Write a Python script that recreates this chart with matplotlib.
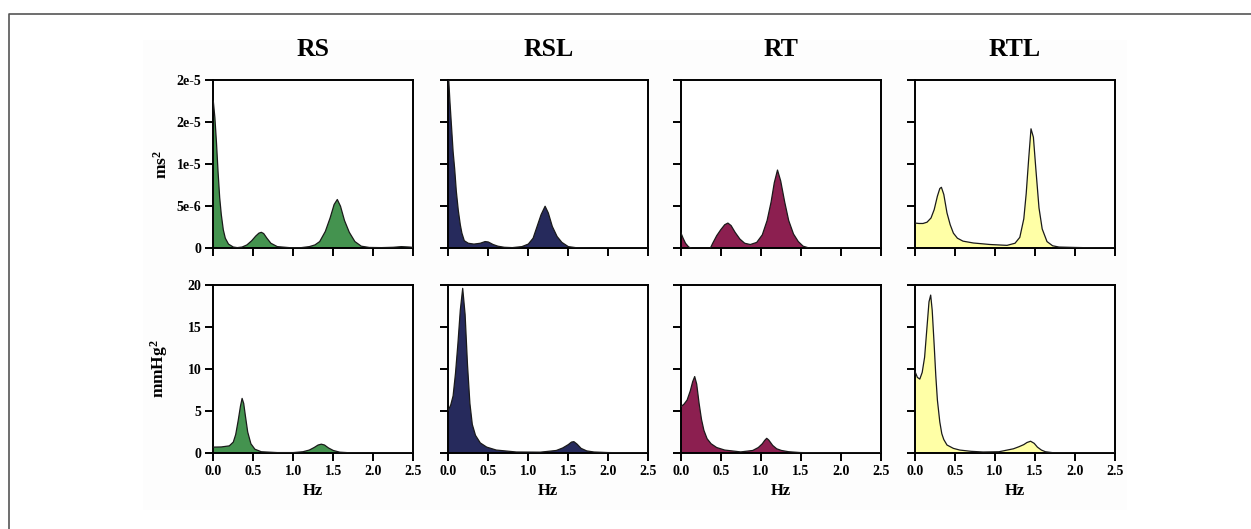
import matplotlib
matplotlib.use("Agg")
import matplotlib.pyplot as plt
from matplotlib.lines import Line2D
from matplotlib.patches import Rectangle

# ---------------- data ----------------
titles = ["RS", "RSL", "RT", "RTL"]
colors = ["#44934f", "#262a5c", "#8c1f50", "#ffffa6"]

x_ticks = [0.0, 0.5, 1.0, 1.5, 2.0, 2.5]
x_tick_labels = ["0.0", "0.5", "1.0", "1.5", "2.0", "2.5"]
top_ticks = [0, 5e-6, 1e-5, 1.5e-5, 2e-5]
top_tick_labels = ["0", "5e-6", "1e-5", "2e-5", "2e-5"]
bottom_ticks = [0, 5, 10, 15, 20]
bottom_tick_labels = ["0", "5", "10", "15", "20"]

# top row: RR-interval spectra, values in units of 1e-6 ms^2
rs_ms_hz = [0.00, 0.02, 0.04, 0.06, 0.08, 0.10, 0.125, 0.15, 0.19, 0.25, 0.30, 0.36,
            0.42, 0.48, 0.53, 0.57, 0.60, 0.63, 0.67, 0.72, 0.80, 0.95, 1.10, 1.20,
            1.27, 1.33, 1.40, 1.46, 1.51, 1.55, 1.59, 1.64, 1.70, 1.77, 1.85, 1.95,
            2.10, 2.25, 2.35, 2.45, 2.50]
rs_ms_pow = [17.5, 15.5, 12.5, 9.0, 6.0, 4.0, 2.2, 1.2, 0.5, 0.15, 0.08, 0.15,
             0.4, 0.9, 1.45, 1.8, 1.9, 1.75, 1.2, 0.6, 0.2, 0.08, 0.08, 0.2,
             0.4, 0.8, 2.0, 3.6, 5.2, 5.8, 5.0, 3.3, 1.9, 0.8, 0.25, 0.1,
             0.08, 0.12, 0.2, 0.15, 0.1]

rsl_ms_hz = [0.00, 0.02, 0.04, 0.06, 0.08, 0.10, 0.125, 0.15, 0.17, 0.20, 0.25, 0.32,
             0.40, 0.46, 0.50, 0.56, 0.62, 0.70, 0.80, 0.92, 1.00, 1.06, 1.11, 1.16,
             1.21, 1.25, 1.30, 1.36, 1.42, 1.50, 1.60, 1.80, 2.10, 2.50]
rsl_ms_pow = [21.0, 17.5, 14.5, 11.5, 9.4, 6.8, 4.5, 2.8, 1.8, 0.9, 0.6, 0.5,
              0.6, 0.8, 0.75, 0.45, 0.25, 0.12, 0.08, 0.2, 0.5, 1.2, 2.6, 4.0,
              5.0, 4.2, 2.6, 1.4, 0.7, 0.2, 0.07, 0.03, 0.02, 0.02]

rt_ms_hz = [0.00, 0.03, 0.06, 0.10, 0.14, 0.25, 0.37, 0.40, 0.45, 0.50, 0.55, 0.59,
            0.63, 0.68, 0.74, 0.80, 0.87, 0.95, 1.02, 1.08, 1.13, 1.17, 1.21, 1.25,
            1.30, 1.35, 1.41, 1.47, 1.53, 1.60, 2.00, 2.50]
rt_ms_pow = [1.9, 1.2, 0.6, 0.15, 0.0, 0.0, 0.0, 0.6, 1.5, 2.2, 2.8, 3.0,
             2.7, 1.9, 1.1, 0.6, 0.45, 0.7, 1.6, 3.3, 5.5, 7.8, 9.3, 8.0,
             5.5, 3.3, 1.7, 0.8, 0.25, 0.05, 0.0, 0.0]

rtl_ms_hz = [0.00, 0.05, 0.10, 0.15, 0.20, 0.24, 0.28, 0.31, 0.33, 0.36, 0.40, 0.44,
             0.48, 0.53, 0.60, 0.73, 0.94, 1.15, 1.25, 1.31, 1.36, 1.39, 1.42, 1.45,
             1.48, 1.51, 1.55, 1.59, 1.65, 1.72, 1.80, 2.00, 2.25, 2.50]
rtl_ms_pow = [3.0, 2.95, 2.95, 3.1, 3.6, 4.6, 6.2, 7.1, 7.25, 6.4, 4.2, 2.8,
              1.8, 1.2, 0.85, 0.63, 0.45, 0.35, 0.6, 1.3, 3.5, 6.5, 10.5, 14.2,
              13.2, 9.5, 4.8, 2.3, 0.8, 0.3, 0.15, 0.1, 0.05, 0.02]

# bottom row: blood-pressure spectra, values in mmHg^2
rs_bp_hz = [0.00, 0.10, 0.20, 0.25, 0.28, 0.31, 0.34, 0.36, 0.38, 0.40, 0.43, 0.47,
            0.52, 0.60, 0.80, 1.00, 1.12, 1.20, 1.26, 1.31, 1.35, 1.39, 1.44, 1.50,
            1.58, 1.70, 2.00, 2.50]
rs_bp_pow = [0.7, 0.72, 0.85, 1.3, 2.2, 3.8, 5.6, 6.5, 5.9, 4.5, 2.5, 1.1,
             0.45, 0.15, 0.05, 0.05, 0.15, 0.35, 0.65, 0.95, 1.05, 0.95, 0.6, 0.3,
             0.1, 0.03, 0.0, 0.0]

rsl_bp_hz = [0.00, 0.03, 0.06, 0.09, 0.12, 0.15, 0.18, 0.21, 0.24, 0.27, 0.30, 0.34,
             0.40, 0.48, 0.60, 0.85, 1.15, 1.35, 1.43, 1.50, 1.54, 1.57, 1.61, 1.66,
             1.73, 1.82, 2.00, 2.50]
rsl_bp_pow = [5.1, 5.7, 6.8, 9.5, 13.0, 17.0, 19.6, 16.5, 10.5, 5.9, 3.4, 2.1,
              1.2, 0.7, 0.35, 0.12, 0.1, 0.3, 0.6, 1.0, 1.3, 1.35, 1.05, 0.55,
              0.25, 0.12, 0.05, 0.0]

rt_bp_hz = [0.00, 0.04, 0.08, 0.12, 0.15, 0.175, 0.20, 0.23, 0.26, 0.29, 0.33, 0.38,
            0.45, 0.55, 0.75, 0.90, 0.97, 1.02, 1.05, 1.075, 1.10, 1.15, 1.20, 1.26,
            1.35, 1.50, 2.00, 2.50]
rt_bp_pow = [5.5, 5.8, 6.3, 7.4, 8.5, 9.1, 8.2, 5.9, 4.0, 2.7, 1.7, 1.1,
             0.65, 0.35, 0.13, 0.3, 0.65, 1.1, 1.5, 1.75, 1.55, 0.9, 0.5, 0.3,
             0.15, 0.05, 0.0, 0.0]

rtl_bp_hz = [0.00, 0.03, 0.06, 0.09, 0.12, 0.15, 0.175, 0.196, 0.215, 0.24, 0.26, 0.28,
             0.31, 0.335, 0.36, 0.40, 0.48, 0.56, 0.70, 0.85, 1.05, 1.23, 1.30, 1.36,
             1.40, 1.445, 1.49, 1.53, 1.58, 1.63, 1.73, 2.00, 2.50]
rtl_bp_pow = [9.7, 9.0, 8.8, 9.6, 11.4, 15.0, 18.0, 18.8, 17.0, 12.8, 9.2, 6.3,
              3.7, 2.3, 1.6, 0.95, 0.55, 0.35, 0.2, 0.12, 0.15, 0.5, 0.75, 1.0,
              1.25, 1.4, 1.15, 0.7, 0.35, 0.15, 0.03, 0.0, 0.0]

MS_SCALE = 1e-6
top_series = [(rs_ms_hz, rs_ms_pow), (rsl_ms_hz, rsl_ms_pow),
              (rt_ms_hz, rt_ms_pow), (rtl_ms_hz, rtl_ms_pow)]
bottom_series = [(rs_bp_hz, rs_bp_pow), (rsl_bp_hz, rsl_bp_pow),
                 (rt_bp_hz, rt_bp_pow), (rtl_bp_hz, rtl_bp_pow)]

# ---------------- styling ----------------
plt.rcParams["font.family"] = ["Liberation Serif", "DejaVu Serif"]
plt.rcParams["font.weight"] = "bold"
plt.rcParams["mathtext.fontset"] = "custom"
plt.rcParams["mathtext.rm"] = "Liberation Serif:bold"
plt.rcParams["mathtext.bf"] = "Liberation Serif:bold"
plt.rcParams["mathtext.it"] = "Liberation Serif:bold"
plt.rcParams["mathtext.default"] = "bf"

W, H = 1251, 529
fig = plt.figure(figsize=(W / 100, H / 100), dpi=100)
fig.patch.set_facecolor("white")

# very faint panel background and partial outer frame
fig.add_artist(Rectangle((143 / W, 1 - 510 / H), (1127 - 143) / W, (510 - 40) / H,
                         transform=fig.transFigure, facecolor="#fdfdfd",
                         edgecolor="none", zorder=-5))
fig.add_artist(Line2D([8.5 / W, 8.5 / W, 1.0], [0.0, 1 - 13.5 / H, 1 - 13.5 / H],
                      transform=fig.transFigure, color="#555555", lw=1.2))

lefts = [213.3, 448.3, 680.7, 915.0]
pw = 200.0
row_top = [(80.0, 248.3), (285.0, 453.0)]

for r in range(2):
    for c in range(4):
        t, b = row_top[r]
        ax = fig.add_axes([lefts[c] / W, 1 - b / H, pw / W, (b - t) / H])
        ax.set_facecolor("white")
        if r == 0:
            hz, pw_vals = top_series[c]
            vals = [v * MS_SCALE for v in pw_vals]
            ax.set_ylim(0, 2e-5)
            ax.set_yticks(top_ticks)
            ax.set_yticklabels(top_tick_labels if c == 0 else [])
        else:
            hz, vals = bottom_series[c]
            ax.set_ylim(0, 20)
            ax.set_yticks(bottom_ticks)
            ax.set_yticklabels(bottom_tick_labels if c == 0 else [])
        ax.fill_between(hz, 0, vals, facecolor=colors[c], edgecolor="none", zorder=2)
        ax.plot(hz, vals, color="#1a1a1a", lw=0.9, zorder=3)
        ax.set_xlim(0, 2.5)
        ax.set_xticks(x_ticks)
        if r == 1:
            ax.set_xticklabels(x_tick_labels)
            ax.set_xlabel("Hz", fontsize=12, fontweight="bold")
            ax.xaxis.set_label_coords(0.5, -0.18)
        else:
            ax.set_xticklabels([])
            ax.text(0.5, 1 + 30 / (b - t), titles[c], transform=ax.transAxes,
                    ha="center", va="center", fontsize=18.5, fontweight="bold")
        for s in ax.spines.values():
            s.set_linewidth(1.4)
            s.set_color("black")
        ax.tick_params(axis="both", direction="out", length=5.5, width=1.4,
                       labelsize=10, pad=3)
        for lab in ax.get_xticklabels() + ax.get_yticklabels():
            lab.set_fontweight("bold")
        if c == 0:
            ax.set_ylabel("ms$^2$" if r == 0 else "mmHg$^2$", fontsize=12.5,
                          fontweight="bold")
            ax.yaxis.set_label_coords(-0.215, 0.5)

fig.savefig("out.png", dpi=100, facecolor="white")
